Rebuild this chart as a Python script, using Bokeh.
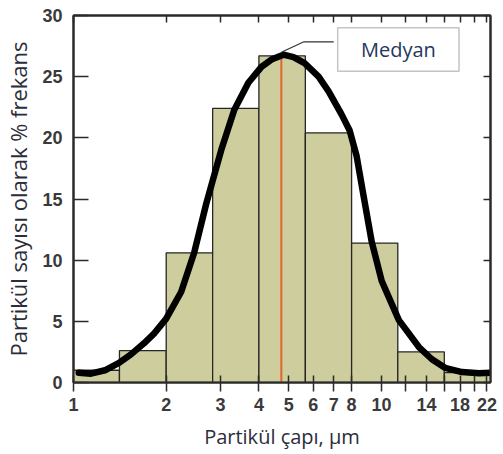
from bokeh.plotting import figure
from bokeh.models import (Range1d, FixedTicker, LogAxis, LinearAxis, Label,
                          NumeralTickFormatter, CustomJSTickFormatter)
from bokeh.embed import file_html
from bokeh.resources import INLINE

# ---- data ----
bin_edges = [1.0, 1.41, 2.0, 2.83, 4.0, 5.66, 8.0, 11.3, 16.0, 22.6]
freq = [1.0, 2.6, 10.6, 22.4, 26.7, 20.4, 11.4, 2.5, 0.8]

curve_x = [1.040, 1.139, 1.265, 1.405, 1.537, 1.694, 1.826, 1.998, 2.236, 2.465,
           2.697, 3.018, 3.328, 3.697, 4.076, 4.392, 4.806, 5.180, 5.627, 6.250,
           6.736, 7.427, 7.884, 8.308, 8.756, 9.299, 10.02, 11.39, 13.23, 14.58,
           16.08, 18.26, 20.75, 22.6]
curve_y = [0.8, 0.72, 1.0, 1.6, 2.3, 3.2, 4.0, 5.2, 7.4, 10.6,
           14.6, 19.0, 22.3, 24.5, 25.8, 26.4, 26.8, 26.6, 26.1, 25.0,
           23.8, 21.9, 20.6, 18.5, 15.2, 11.5, 8.3, 5.1, 2.9, 1.9,
           1.2, 0.85, 0.75, 0.8]

median_x = 4.73
median_top = 26.8
median_text = "Medyan"

x_ticks = [1, 2, 3, 4, 5, 6, 7, 8, 10, 14, 18, 22]
x_minor_ticks = [12, 16, 20]
y_ticks = [0, 5, 10, 15, 20, 25, 30]

x_title = "Partikül çapı, µm"
y_title = "Partikül sayısı olarak % frekans"

# ---- styles ----
FRAME = "#2a2a2a"
TICK_FONT = "Liberation Sans"
TITLE_FONT = "Open Sans"
TITLE_COLOR = "#2b2d3a"

p = figure(width=503, height=454, x_axis_type="log",
           x_range=Range1d(bin_edges[0], bin_edges[-1]),
           y_range=Range1d(y_ticks[0], y_ticks[-1]),
           output_backend="svg", toolbar_location=None,
           min_border_left=73, min_border_right=13, min_border_top=15, min_border_bottom=72)
p.grid.visible = False
p.outline_line_color = FRAME
p.outline_line_width = 2
p.background_fill_color = "white"

# bars
p.quad(left=bin_edges[:-1], right=bin_edges[1:], top=freq, bottom=0,
       fill_color="#cdcd9d", line_color="#262626", line_width=1.3)

# median line
p.segment(x0=[median_x], y0=[0], x1=[median_x], y1=[median_top],
          line_color="#e0662e", line_width=2)

# fitted curve
p.line(curve_x, curve_y, line_color="black", line_width=6.5,
       line_join="round", line_cap="round")

# median callout
p.line(x=[median_x, 5.6, 7.0], y=[27.0, 27.85, 27.85], line_color="#333333", line_width=1.2)
p.quad(left=[7.21], right=[17.86], bottom=[25.45], top=[29.0],
       fill_color="white", line_color="#c4c4c4", line_width=1.5)
p.add_layout(Label(x=11.35, y=27.2, text=median_text, text_align="center",
                   text_baseline="middle", text_font=TITLE_FONT, text_font_size="20px",
                   text_color="#24385a"))

# bottom axis
xa = p.xaxis[0]
xa.ticker = FixedTicker(ticks=x_ticks, minor_ticks=x_minor_ticks)
xa.formatter = NumeralTickFormatter(format="0")
xa.axis_line_color = FRAME
xa.axis_line_width = 2
xa.major_tick_in = 7
xa.major_tick_out = 9
xa.minor_tick_in = 7
xa.minor_tick_out = 9
xa.major_tick_line_color = FRAME
xa.minor_tick_line_color = FRAME
xa.major_tick_line_width = 1.5
xa.minor_tick_line_width = 1.5
xa.major_label_text_font = TICK_FONT
xa.major_label_text_font_style = "bold"
xa.major_label_text_font_size = "18px"
xa.major_label_text_color = "#3a3a3a"
xa.major_label_standoff = 6
xa.axis_label = x_title
xa.axis_label_text_font = TITLE_FONT
xa.axis_label_text_font_style = "normal"
xa.axis_label_text_font_size = "20px"
xa.axis_label_text_color = TITLE_COLOR
xa.axis_label_standoff = 9

# left axis
ya = p.yaxis[0]
ya.ticker = FixedTicker(ticks=y_ticks, minor_ticks=[])
ya.axis_line_color = FRAME
ya.axis_line_width = 2
ya.major_tick_in = 15
ya.major_tick_out = 0
ya.minor_tick_in = 0
ya.minor_tick_out = 0
ya.major_tick_line_color = FRAME
ya.major_tick_line_width = 1.5
ya.major_label_text_font = TICK_FONT
ya.major_label_text_font_style = "bold"
ya.major_label_text_font_size = "18px"
ya.major_label_text_color = "#3a3a3a"
ya.major_label_standoff = 11
ya.axis_label = y_title
ya.axis_label_text_font = TITLE_FONT
ya.axis_label_text_font_style = "normal"
ya.axis_label_text_font_size = "22px"
ya.axis_label_text_color = TITLE_COLOR
ya.axis_label_standoff = 6

blank = CustomJSTickFormatter(code="return ''")

# top axis (ticks only)
ta = LogAxis(ticker=FixedTicker(ticks=x_ticks, minor_ticks=x_minor_ticks), formatter=blank,
             major_label_standoff=0,
             major_tick_in=7, major_tick_out=0, minor_tick_in=7, minor_tick_out=0,
             axis_line_color=FRAME, axis_line_width=2,
             major_tick_line_color=FRAME, minor_tick_line_color=FRAME,
             major_tick_line_width=1.5, minor_tick_line_width=1.5)
p.add_layout(ta, "above")

# right axis (ticks only)
ra = LinearAxis(ticker=FixedTicker(ticks=y_ticks, minor_ticks=[]), formatter=blank,
                major_label_standoff=0,
                major_tick_in=7, major_tick_out=0, minor_tick_in=0, minor_tick_out=0,
                axis_line_color=FRAME, axis_line_width=2,
                major_tick_line_color=FRAME, major_tick_line_width=1.5)
p.add_layout(ra, "right")

open("out.html", "w").write(file_html(p, INLINE))
